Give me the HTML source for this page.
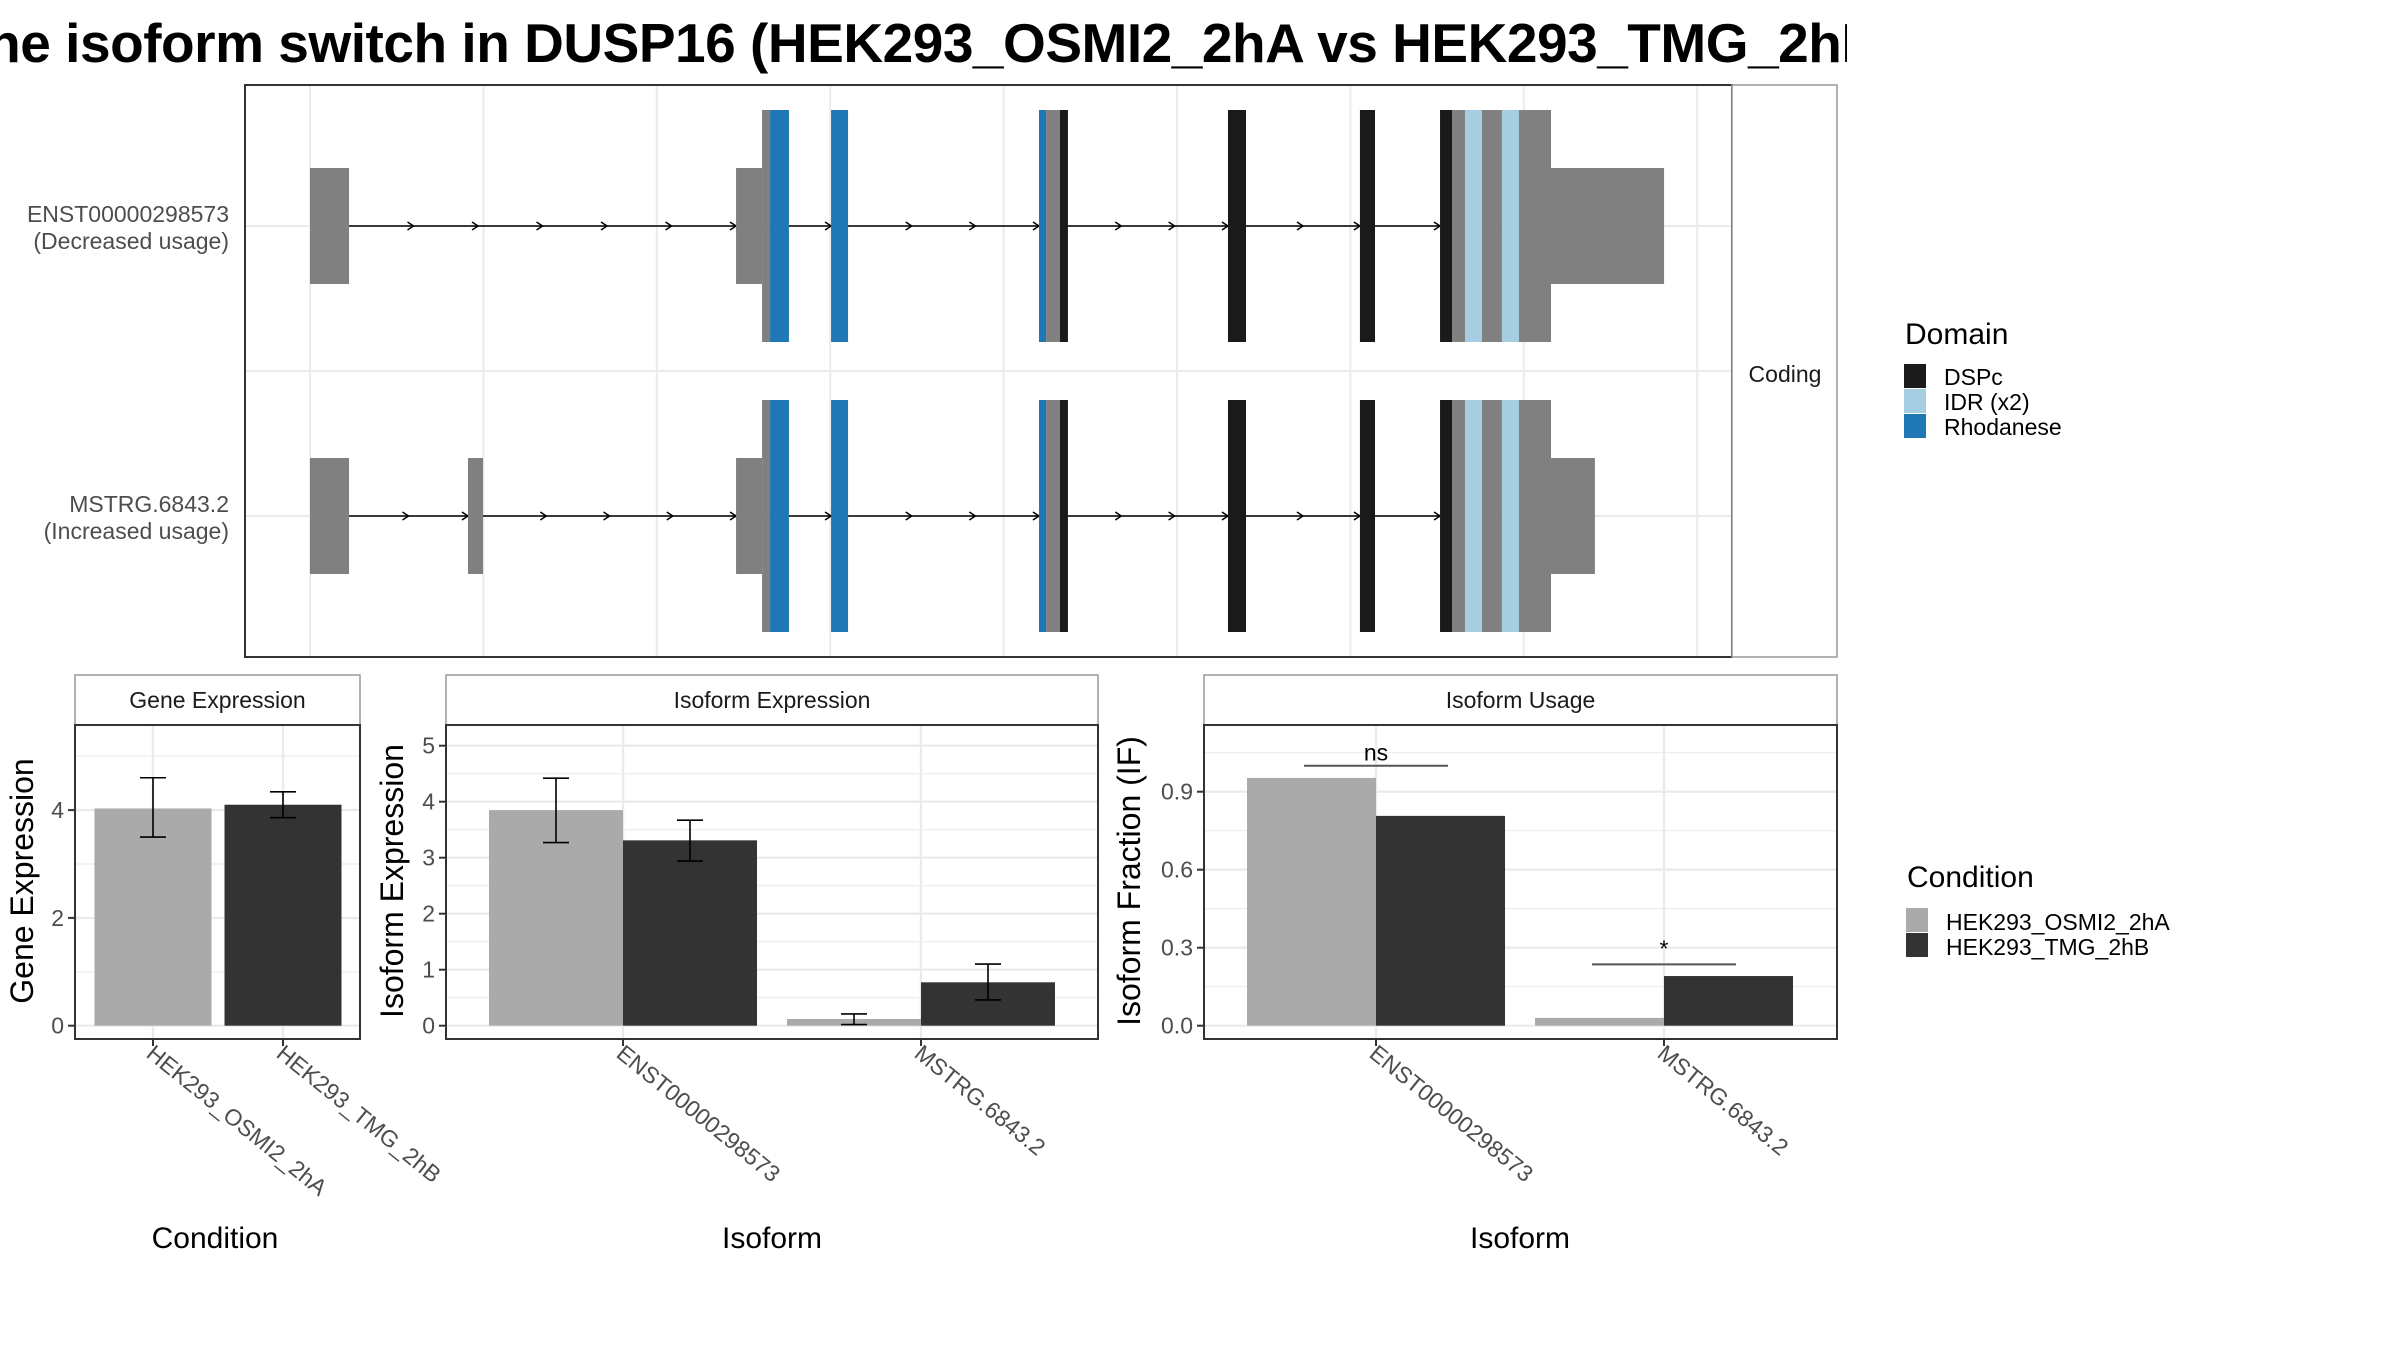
<!DOCTYPE html>
<html><head><meta charset="utf-8"><title>Isoform switch DUSP16</title>
<style>
html,body{margin:0;padding:0;background:#fff;}
svg{display:block;font-family:"Liberation Sans",Arial,sans-serif;}
</style></head>
<body>
<svg id="chart" xmlns="http://www.w3.org/2000/svg" width="2400" height="1350" viewBox="0 0 2400 1350">
<defs><clipPath id="titleclip"><rect x="0" y="0" width="1847" height="100"/></clipPath></defs>
<rect x="0" y="0" width="2400" height="1350" fill="#fff"/>
<text clip-path="url(#titleclip)" x="-46" y="62" font-size="55" font-weight="bold" textLength="1945" lengthAdjust="spacing">The isoform switch in DUSP16 (HEK293_OSMI2_2hA vs HEK293_TMG_2hB)</text>
<g id="topgrp"></g>
<g id="botgrp"></g>
</svg>
<script>
// ---------- Transcript structure data (positions in kb) ----------
const transcriptNames = ["ENST00000298573", "MSTRG.6843.2"];
const transcriptUsage = ["(Decreased usage)", "(Increased usage)"];
const tx1Starts = [0, 24.57, 26.07, 26.53, 30.05, 42.04, 42.45, 43.25, 52.94, 60.55, 65.17, 65.86, 66.61, 67.59, 68.74, 69.72, 71.57];
const tx1Ends   = [2.25, 26.07, 26.53, 27.62, 31.03, 42.45, 43.25, 43.71, 53.98, 61.42, 65.86, 66.61, 67.59, 68.74, 69.72, 71.57, 78.09];
const tx1Types  = ["utr","utr","cds","Rhodanese","Rhodanese","Rhodanese","cds","DSPc","DSPc","DSPc","DSPc","cds","IDR","cds","IDR","cds","utr"];
const tx2Starts = [0, 9.11, 24.57, 26.07, 26.53, 30.05, 42.04, 42.45, 43.25, 52.94, 60.55, 65.17, 65.86, 66.61, 67.59, 68.74, 69.72, 71.57];
const tx2Ends   = [2.25, 9.98, 26.07, 26.53, 27.62, 31.03, 42.45, 43.25, 43.71, 53.98, 61.42, 65.86, 66.61, 67.59, 68.74, 69.72, 71.57, 74.1];
const tx2Types  = ["utr","utr","utr","cds","Rhodanese","Rhodanese","Rhodanese","cds","DSPc","DSPc","DSPc","DSPc","cds","IDR","cds","IDR","cds","utr"];
const domainNames = ["DSPc", "IDR (x2)", "Rhodanese"];
const genomeGridTicks = [-10, 0, 10, 20, 30, 40, 50, 60, 70, 80, 90];

// ---------- Bar chart data ----------
const conditions = ["HEK293_OSMI2_2hA", "HEK293_TMG_2hB"];
const geneExpr = [4.03, 4.1];
const geneLo = [3.5, 3.86];
const geneHi = [4.6, 4.34];
const geneTicks = [0, 2, 4];
const isoforms = ["ENST00000298573", "MSTRG.6843.2"];
const isoExprA = [3.85, 0.12];
const isoExprB = [3.31, 0.775];
const isoExprLoA = [3.27, 0.02];
const isoExprHiA = [4.42, 0.21];
const isoExprLoB = [2.94, 0.46];
const isoExprHiB = [3.67, 1.1];
const isoExprTicks = [0, 1, 2, 3, 4, 5];
const ifA = [0.953, 0.03];
const ifB = [0.807, 0.191];
const ifSig = ["ns", "*"];
const ifSigY = [1.0, 0.236];
const ifTicks = [0.0, 0.3, 0.6, 0.9];
const ifTickLabels = ["0.0", "0.3", "0.6", "0.9"];

const SVGNS = "http://www.w3.org/2000/svg";
const COL = {utr:"#808080", cds:"#808080", DSPc:"#1a1a1a", IDR:"#a6cee3", Rhodanese:"#1f78b4"};
const COND_COL = ["#aaaaaa", "#333333"];
function mk(tag, attrs, parent, txt){
  const el = document.createElementNS(SVGNS, tag);
  for (const k in attrs) el.setAttribute(k, attrs[k]);
  if (txt !== undefined) el.textContent = txt;
  parent.appendChild(el);
  return el;
}
const topG = document.getElementById('topgrp');
const botG = document.getElementById('botgrp');

// ---------- Top transcript panel ----------
const P = {x0:245, x1:1732, y0:85, y1:657};
const gx = v => 310 + v * 17.34;
const rowY = [226, 516];
const HALF_TALL = 116, HALF_SHORT = 58;
let ee;
ee = mk('rect', {x:P.x0, y:P.y0, width:P.x1-P.x0, height:P.y1-P.y0, fill:'#fff'}, topG);


genomeGridTicks.forEach(t => {
  const x = gx(t);
  if (x <= P.x0 || x >= P.x1) return;
  const g = mk('line', {x1:x, x2:x, y1:P.y0, y2:P.y1, stroke:'#ebebeb', 'stroke-width':2}, topG);
  
  
});
[226, 371, 516].forEach(y => {
  const g = mk('line', {x1:P.x0, x2:P.x1, y1:y, y2:y, stroke:'#ebebeb', 'stroke-width':2}, topG);
  
  
});
const txStarts = [tx1Starts, tx2Starts], txEnds = [tx1Ends, tx2Ends], txTypes = [tx1Types, tx2Types];
for (let r = 0; r < 2; r++) {
  const S = txStarts[r], E = txEnds[r], T = txTypes[r], cy = rowY[r];
  const grp = mk('g', {}, topG);
  
  
  const ln = mk('line', {x1:gx(E[0]), x2:gx(S[S.length-1]), y1:cy, y2:cy, stroke:'#000', 'stroke-width':1.6}, grp);
  
  
  for (let i = 0; i < S.length - 1; i++) {
    const a = gx(E[i]), b = gx(S[i+1]);
    if (b - a < 20) continue;
    const n = Math.max(1, Math.round((b - a) / 64));
    for (let k = 1; k <= n; k++) {
      const ax = a + k * (b - a) / n;
      const ar = mk('path', {d:`M${ax-6},${cy-4} L${ax},${cy} L${ax-6},${cy+4}`, fill:'none', stroke:'#000', 'stroke-width':1.5}, grp);
      
      
    }
  }
  for (let i = 0; i < S.length; i++) {
    const h = T[i] === 'utr' ? HALF_SHORT : HALF_TALL;
    const rc = mk('rect', {x:gx(S[i]), y:cy-h, width:gx(E[i])-gx(S[i]), height:2*h, fill:COL[T[i]]}, grp);
    
    
  }
  const l1 = mk('text', {x:229, y:cy-4, 'text-anchor':'end', 'font-size':23, fill:'#4d4d4d'}, topG, transcriptNames[r]);
  
  
  const l2 = mk('text', {x:229, y:cy+23, 'text-anchor':'end', 'font-size':23, fill:'#4d4d4d'}, topG, transcriptUsage[r]);
  
  
}
ee = mk('rect', {x:P.x0, y:P.y0, width:P.x1-P.x0, height:P.y1-P.y0, fill:'none', stroke:'#333', 'stroke-width':2}, topG);


ee = mk('rect', {x:P.x1, y:P.y0, width:1837-P.x1, height:P.y1-P.y0, fill:'#fff', stroke:'#999', 'stroke-width':1.5}, topG);


ee = mk('text', {x:1785, y:382, 'text-anchor':'middle', 'font-size':23, fill:'#1a1a1a'}, topG, 'Coding');


ee = mk('text', {x:1905, y:344, 'font-size':30, fill:'#000'}, topG, 'Domain');


const domCols = [COL.DSPc, COL.IDR, COL.Rhodanese];
domainNames.forEach((d, i) => {
  const k = mk('rect', {x:1904, y:364 + i*25, width:22, height:24, fill:domCols[i]}, topG);
  
  
  const t = mk('text', {x:1944, y:385 + i*25, 'font-size':23, fill:'#000'}, topG, d);
  
  
});

// ---------- Bottom bar panels ----------
const PY0 = 725, PY1 = 1039, SY0 = 675, ZERO = 1025.7;
function panel(x0, x1, title, yfun, ticks, tickLabels, minor, catX, catLabels, yTitle, yTitleX, xTitle, xTitleX, pname){
  const g = mk('g', {}, botG);
  
  
  minor.forEach(v => {
    const y = yfun(v); if (y < PY0) return;
    const l = mk('line', {x1:x0, x2:x1, y1:y, y2:y, stroke:'#ebebeb', 'stroke-width':1.2}, g);
    
    
  });
  ticks.forEach(v => {
    const y = yfun(v);
    const l = mk('line', {x1:x0, x2:x1, y1:y, y2:y, stroke:'#ebebeb', 'stroke-width':2.4}, g);
    
    
  });
  catX.forEach(x => {
    const l = mk('line', {x1:x, x2:x, y1:PY0, y2:PY1, stroke:'#ebebeb', 'stroke-width':2.4}, g);
    
    
  });
  const s = mk('rect', {x:x0, y:SY0, width:x1-x0, height:PY0-SY0, fill:'#fff', stroke:'#999', 'stroke-width':1.5}, g);
  
  
  const st = mk('text', {x:(x0+x1)/2, y:SY0+33, 'text-anchor':'middle', 'font-size':23, fill:'#1a1a1a'}, g, title);
  
  
  ticks.forEach((v, i) => {
    const y = yfun(v);
    const tk = mk('line', {x1:x0-7, x2:x0, y1:y, y2:y, stroke:'#333', 'stroke-width':2}, g);
    
    
    const tl = mk('text', {x:x0-11, y:y+8, 'text-anchor':'end', 'font-size':23, fill:'#4d4d4d'}, g, tickLabels[i]);
    
    
  });
  catX.forEach((x, i) => {
    const tk = mk('line', {x1:x, x2:x, y1:PY1, y2:PY1+7, stroke:'#333', 'stroke-width':2}, g);
    
    
    const tl = mk('text', {x:0, y:0, 'font-size':23, fill:'#4d4d4d', transform:`translate(${x-8},${PY1+17}) rotate(39)`}, g, catLabels[i]);
    
    
  });
  const yt = mk('text', {x:0, y:0, 'text-anchor':'middle', 'font-size':32, fill:'#000', transform:`translate(${yTitleX},881) rotate(-90)`}, g, yTitle);
  
  
  const xt = mk('text', {x:xTitleX, y:1248, 'text-anchor':'middle', 'font-size':30, fill:'#000'}, g, xTitle);
  
  
  return g;
}
function bar(g, x, w, v, yfun, col, name){
  const y = yfun(v);
  const r = mk('rect', {x:x, y:y, width:w, height:ZERO-y, fill:col}, g);
  
  
}
function errbar(g, x, lo, hi, yfun){
  const e1 = mk('path', {d:`M${x-13},${yfun(hi)} H${x+13} M${x},${yfun(hi)} V${yfun(lo)} M${x-13},${yfun(lo)} H${x+13}`, fill:'none', stroke:'#000', 'stroke-width':1.6}, g);
  
  
}
function frame(g, x0, x1){
  const f = mk('rect', {x:x0, y:PY0, width:x1-x0, height:PY1-PY0, fill:'none', stroke:'#333', 'stroke-width':2}, g);
  
  
}

// Gene expression
const yG = v => ZERO - 53.9 * v;
const gCat = [153, 283];
const gG = panel(75, 360, 'Gene Expression', yG, geneTicks, geneTicks.map(String), [1,3,5], gCat, conditions, 'Gene Expression', 33, 'Condition', 215, 'gene-expression');
geneExpr.forEach((v, i) => {
  bar(gG, gCat[i]-58.5, 117, v, yG, COND_COL[i], 'bar-gene-' + conditions[i].toLowerCase());
  errbar(gG, gCat[i], geneLo[i], geneHi[i], yG);
});
frame(gG, 75, 360);

// Isoform expression
const yI = v => ZERO - 56 * v;
const iCat = [623, 921];
const gI = panel(446, 1098, 'Isoform Expression', yI, isoExprTicks, isoExprTicks.map(String), [0.5,1.5,2.5,3.5,4.5], iCat, isoforms, 'Isoform Expression', 403, 'Isoform', 772, 'isoform-expression');
isoforms.forEach((n, i) => {
  bar(gI, iCat[i]-134, 134, isoExprA[i], yI, COND_COL[0], 'bar-isoexpr-a-' + i);
  bar(gI, iCat[i], 134, isoExprB[i], yI, COND_COL[1], 'bar-isoexpr-b-' + i);
  errbar(gI, iCat[i]-67, isoExprLoA[i], isoExprHiA[i], yI);
  errbar(gI, iCat[i]+67, isoExprLoB[i], isoExprHiB[i], yI);
});
frame(gI, 446, 1098);

// Isoform usage
const yU = v => ZERO - 260 * v;
const uCat = [1376, 1664];
const gU = panel(1204, 1837, 'Isoform Usage', yU, ifTicks, ifTickLabels, [0.15,0.45,0.75,1.05], uCat, isoforms, 'Isoform Fraction (IF)', 1140, 'Isoform', 1520, 'isoform-usage');
isoforms.forEach((n, i) => {
  bar(gU, uCat[i]-129, 129, ifA[i], yU, COND_COL[0], 'bar-if-a-' + i);
  bar(gU, uCat[i], 129, ifB[i], yU, COND_COL[1], 'bar-if-b-' + i);
  const y = yU(ifSigY[i]);
  const sl = mk('line', {x1:uCat[i]-72, x2:uCat[i]+72, y1:y, y2:y, stroke:'#555', 'stroke-width':2}, gU);
  
  
  const st = mk('text', {x:uCat[i], y: ifSig[i] === '*' ? y-8 : y-5, 'text-anchor':'middle', 'font-size':23, fill:'#000'}, gU, ifSig[i]);
  
  
});
frame(gU, 1204, 1837);

// Condition legend
ee = mk('text', {x:1907, y:887, 'font-size':30, fill:'#000'}, botG, 'Condition');


conditions.forEach((c, i) => {
  const k = mk('rect', {x:1906, y:908 + i*25, width:22, height:24, fill:COND_COL[i]}, botG);
  
  
  const t = mk('text', {x:1946, y:930 + i*25, 'font-size':23, fill:'#000'}, botG, c);
  
  
});
</script>
</body></html>
